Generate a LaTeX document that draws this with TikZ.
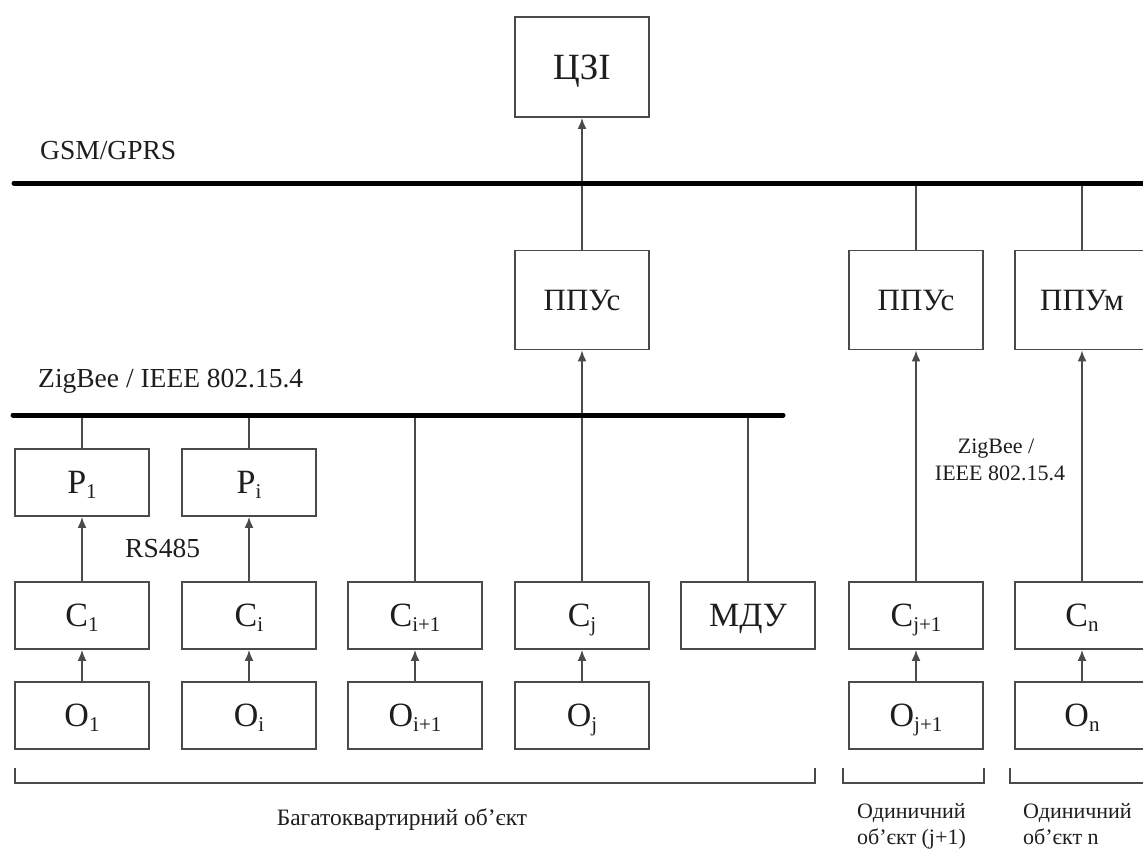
\documentclass[tikz,border=0pt]{standalone}
\usepackage{fontspec}
\setmainfont{Liberation Serif}
\usetikzlibrary{arrows.meta}

\definecolor{linegray}{HTML}{4A4A4A}
\definecolor{textdark}{HTML}{1E1E1E}

% lowered index for the block labels
\newcommand{\lowidx}[1]{\raisebox{-5pt}{\fontsize{21}{21}\selectfont #1}}

\tikzset{
  blk/.style={draw=linegray, line width=1.8pt, minimum width=134pt, minimum height=67pt,
    inner sep=0pt, text=textdark, text height=24pt, text depth=2pt,
    font=\fontsize{34}{34}\selectfont},
  hubbox/.style={blk, minimum height=99pt, text height=21pt, text depth=0pt,
    font=\fontsize{31}{31}\selectfont},
  busline/.style={line width=5pt, line cap=round, black},
  wire/.style={draw=linegray, line width=1.8pt},
  feed/.style={wire, -{Latex[length=11pt,width=9pt]}},
  lbl/.style={inner sep=0pt, text=textdark, font=\fontsize{27.5}{27.5}\selectfont},
  smalllbl/.style={inner sep=0pt, text=textdark, font=\fontsize{22}{22}\selectfont},
}

\begin{document}
\begin{tikzpicture}[x=1pt, y=-1pt]
\clip (0,0) rectangle (1143,857);
\fill[white] (0,0) rectangle (1143,857);

% bus ends
\coordinate (gsmL) at (14,183);
\coordinate (gsmR) at (1160,183);
\coordinate (zbL) at (13,415);
\coordinate (zbR) at (783,415);

% top level
\node[blk, minimum height=100pt, text height=24pt, text depth=0pt,
  font=\fontsize{37}{37}\selectfont] (czi) at (582,67) {ЦЗІ};

% receiving / transmitting units
\node[hubbox] (ppu1) at (582,300) {ППУс};
\node[hubbox] (ppu2) at (916,300) {ППУс};
\node[hubbox] (ppu3) at (1082,300) {ППУм};

% repeaters
\node[blk] (p1) at (82,482.5) {Р\lowidx{1}};
\node[blk] (pi) at (249,482.5) {Р\lowidx{i}};

% meters
\node[blk] (c1)  at (82,615.5)   {С\lowidx{1}};
\node[blk] (ci)  at (249,615.5)  {С\lowidx{i}};
\node[blk] (ci1) at (415,615.5)  {С\lowidx{i+1}};
\node[blk] (cj)  at (582,615.5)  {С\lowidx{j}};
\node[blk] (mdu) at (748,615.5)  {МДУ};
\node[blk] (cj1) at (916,615.5)  {С\lowidx{j+1}};
\node[blk] (cn)  at (1082,615.5) {С\lowidx{n}};

% objects
\node[blk] (o1)  at (82,715.5)   {О\lowidx{1}};
\node[blk] (oi)  at (249,715.5)  {О\lowidx{i}};
\node[blk] (oi1) at (415,715.5)  {О\lowidx{i+1}};
\node[blk] (oj)  at (582,715.5)  {О\lowidx{j}};
\node[blk] (oj1) at (916,715.5)  {О\lowidx{j+1}};
\node[blk] (on)  at (1082,715.5) {О\lowidx{n}};

% object -> meter
\foreach \a/\b in {o1/c1, oi/ci, oi1/ci1, oj/cj, oj1/cj1, on/cn}
  \draw[feed] (\a.north) -- (\b.south);

% meter -> repeater (RS485)
\draw[feed] (c1.north) -- (p1.south);
\draw[feed] (ci.north) -- (pi.south);

% taps onto the ZigBee bus
\draw[wire] (p1.north) -- (p1.north |- zbL);
\draw[wire] (pi.north) -- (pi.north |- zbL);
\draw[wire] (ci1.north) -- (ci1.north |- zbL);
\draw[wire] (mdu.north) -- (mdu.north |- zbL);

% uplinks
\draw[feed] (cj.north) -- (ppu1.south);
\draw[feed] (cj1.north) -- (ppu2.south);
\draw[feed] (cn.north) -- (ppu3.south);
\draw[feed] (ppu1.north) -- (czi.south);
\draw[wire] (ppu2.north) -- (ppu2.north |- gsmL);
\draw[wire] (ppu3.north) -- (ppu3.north |- gsmL);

% buses
\draw[busline] (gsmL) -- (gsmR);
\draw[busline] (zbL) -- (zbR);

% bus and link labels
\node[lbl, anchor=base west] (gsmlbl) at (40,159) {GSM/GPRS};
\node[lbl, anchor=base west] (zblbl) at (38,387) {ZigBee / IEEE 802.15.4};
\node[lbl, anchor=base west] (rslbl) at (125,557) {RS485};
\node[smalllbl, anchor=base] (zb2a) at (996,453) {ZigBee /};
\node[smalllbl, anchor=base] (zb2b) at (1000,480) {IEEE 802.15.4};

% object groups
\draw[wire, line width=1.5pt] (15,768) |- (815,783) -- (815,768);
\draw[wire, line width=1.5pt] (843,768) |- (984,783) -- (984,768);
\draw[wire, line width=1.5pt] (1010,768) |- (1160,783);

\node[smalllbl, anchor=base, font=\fontsize{23.5}{23.5}\selectfont] (grp1) at (402,825) {Багатоквартирний об’єкт};
\node[smalllbl, anchor=base west] (grp2a) at (857,818) {Одиничний};
\node[smalllbl, anchor=base west] (grp2b) at (857,844) {об’єкт (j+1)};
\node[smalllbl, anchor=base west] (grp3a) at (1023,818) {Одиничний};
\node[smalllbl, anchor=base west] (grp3b) at (1023,844) {об’єкт n};
\end{tikzpicture}
\end{document}
